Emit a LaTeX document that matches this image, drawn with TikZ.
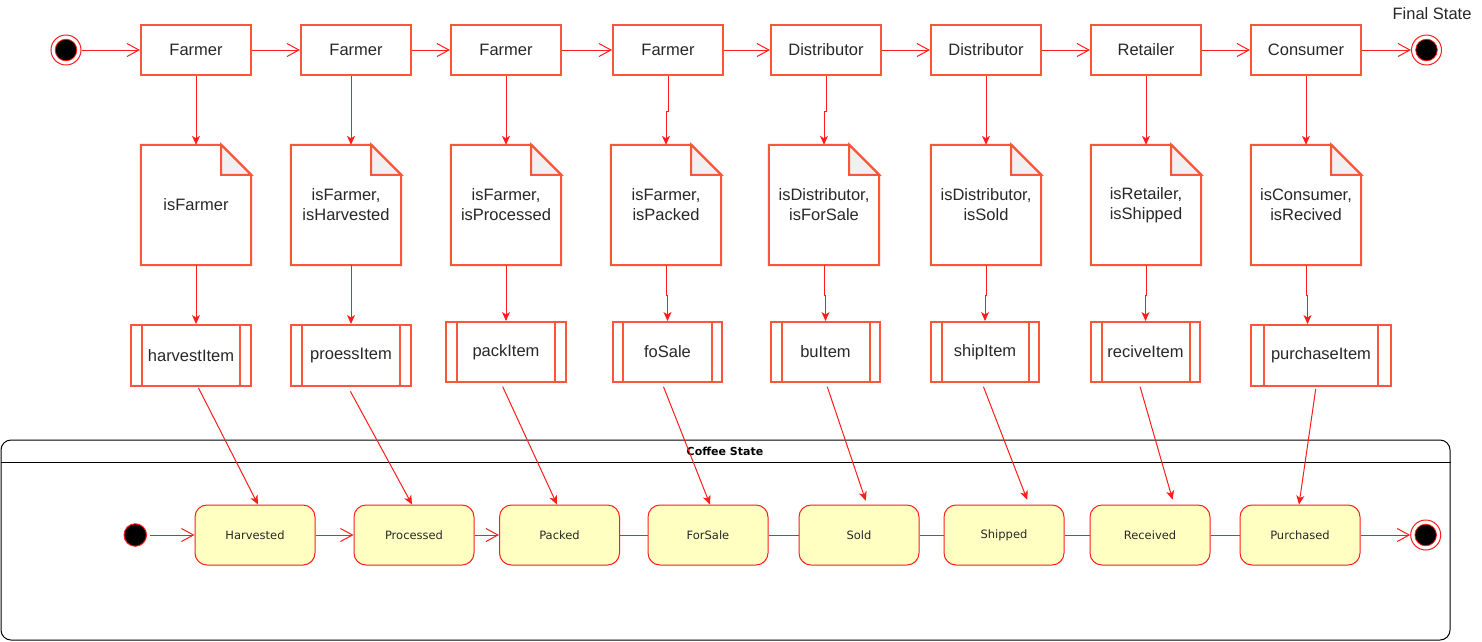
\documentclass[tikz,border=0pt]{standalone}
\usepackage{fontspec}
\setmainfont{Liberation Sans}
\newfontfamily\statefont{DejaVu Sans}
\usetikzlibrary{arrows.meta}

\definecolor{boxred}{RGB}{250,86,58}
\definecolor{linkred}{RGB}{255,28,28}
\definecolor{statefill}{RGB}{255,255,194}
\definecolor{foldgray}{RGB}{240,240,240}
\definecolor{txt}{RGB}{40,40,40}

\begin{document}
\begin{tikzpicture}[x=1pt,y=-1pt,
  lbl/.style={text=txt, font=\fontsize{16.5}{20}\selectfont},
  actor/.style={lbl, draw=boxred, line width=2pt, fill=white,
    minimum width=110pt, minimum height=50pt, inner sep=0pt},
  notebox/.style={lbl, align=center, minimum width=110pt,
    minimum height=120pt, inner sep=0pt},
  procbox/.style={lbl, draw=boxred, line width=2pt, fill=white,
    minimum height=60pt, inner sep=0pt},
  state/.style={draw=linkred, line width=1pt, fill=statefill,
    rounded corners=12pt, minimum width=120pt, minimum height=60pt,
    inner sep=0pt, text=txt, font=\statefont\fontsize{11.5}{14}\selectfont},
  startdot/.style={circle, draw=linkred, line width=1pt, fill=black,
    minimum size=22.5pt, inner sep=0pt},
  enddot/.style={circle, draw=linkred, line width=1pt, fill=white,
    minimum size=30pt, inner sep=0pt,
    path picture={\filldraw[draw=linkred, fill=black, line width=0.8pt]
      (path picture bounding box.center) circle (10.8pt);}},
  link/.style={draw=linkred, line width=1pt},
  flow/.style={link, -{Straight Barb[length=12pt,width=13pt,line width=1pt]}},
  feed/.style={link, -{Stealth[length=9pt,width=8pt,inset=2.5pt]}},
]
% canvas
\fill[white] (0,0) rectangle (1482,641);
\useasboundingbox (0,0) rectangle (1482,641);

% ---- actors along the top
\node[enddot] (init) at (66,50) {};
\node[actor] (f1) at (196,50) {Farmer};
\node[actor] (f2) at (356,50) {Farmer};
\node[actor] (f3) at (506,50) {Farmer};
\node[actor] (f4) at (668,50) {Farmer};
\node[actor] (d1) at (826,50) {Distributor};
\node[actor] (d2) at (986,50) {Distributor};
\node[actor] (rt) at (1146,50) {Retailer};
\node[actor] (cs) at (1306,50) {Consumer};
\node[enddot] (fin) at (1426.5,50) {};
\node[lbl] (finlbl) at (1432,14) {Final State};

\draw[flow] (init) -- (f1);
\draw[flow] (f1) -- (f2);
\draw[flow] (f2) -- (f3);
\draw[flow] (f3) -- (f4);
\draw[flow] (f4) -- (d1);
\draw[flow] (d1) -- (d2);
\draw[flow] (d2) -- (rt);
\draw[flow] (rt) -- (cs);
\draw[flow] (cs) -- (fin);

% ---- condition notes
\node[notebox] (n1) at (196,205) {isFarmer};
\node[notebox] (n2) at (346,205) {isFarmer,\\isHarvested};
\node[notebox] (n3) at (506,205) {isFarmer,\\isProcessed};
\node[notebox] (n4) at (666,205) {isFarmer,\\isPacked};
\node[notebox] (n5) at (824,205) {isDistributor,\\isForSale};
\node[notebox] (n6) at (986,205) {isDistributor,\\isSold};
\node[notebox] (n7) at (1146,205) {isRetailer,\\isShipped};
\node[notebox] (n8) at (1306,205) {isConsumer,\\isRecived};

\foreach \n in {n1,n2,n3,n4,n5,n6,n7,n8} {
  \draw[boxred, line width=2pt, line join=miter]
    (\n.north west) -- ([xshift=-30pt]\n.north east)
    -- ([yshift=-30pt]\n.north east) -- (\n.south east)
    -- (\n.south west) -- cycle;
  \filldraw[draw=boxred, fill=foldgray, line width=2pt, line join=miter]
    ([xshift=-30pt]\n.north east) -- ([xshift=-30pt,yshift=-30pt]\n.north east)
    -- ([yshift=-30pt]\n.north east) -- cycle;
}

\draw[feed] (f1) -- (n1);
\draw[feed] ([xshift=-5pt]f2.south) -- ([xshift=5pt]n2.north);
\draw[feed] (f3) -- (n3);
\draw[feed] (f4.south) -- ++(0,35) -| (n4.north);
\draw[feed] (d1.south) -- ++(0,35) -| (n5.north);
\draw[feed] (d2) -- (n6);
\draw[feed] (rt) -- (n7);
\draw[feed] (cs) -- (n8);

% ---- actions
\node[procbox, minimum width=120pt, minimum height=61pt] (p1) at (191,355.5) {harvestItem};
\node[procbox, minimum width=120pt, minimum height=61pt] (p2) at (351,355.5) {proessItem};
\node[procbox, minimum width=120pt] (p3) at (506,352) {packItem};
\node[procbox, minimum width=109pt] (p4) at (667.5,352) {foSale};
\node[procbox, minimum width=109pt] (p5) at (825.5,352) {buItem};
\node[procbox, minimum width=108pt] (p6) at (985,352) {shipItem};
\node[procbox, minimum width=109pt] (p7) at (1145.5,352) {reciveItem};
\node[procbox, minimum width=140pt, minimum height=61pt] (p8) at (1321,355.5) {purchaseItem};

\foreach \p/\w in {p1/12,p2/12,p3/12,p4/11,p5/11.5,p6/11.5,p7/11.5,p8/14} {
  \draw[boxred, line width=2pt]
    ([xshift=\w pt]\p.north west) -- ([xshift=\w pt]\p.south west)
    ([xshift=-\w pt]\p.north east) -- ([xshift=-\w pt]\p.south east);
}

\draw[feed] (n1.south) -- ([xshift=5pt]p1.north);
\draw[feed] ([xshift=5pt]n2.south) -- (p2.north);
\draw[feed] (n3) -- (p3);
\draw[feed] (n4.south) -- ++(0,30) -| (p4.north);
\draw[feed] (n5.south) -- ++(0,30) -| (p5.north);
\draw[feed] (n6.south) -- ++(0,30) -| (p6.north);
\draw[feed] (n7.south) -- ++(0,30) -| (p7.north);
\draw[feed] (n8.south) -- ++(0,30) -| ([xshift=-13.5pt]p8.north);

% ---- composite state
\node[draw=black, line width=1pt, rounded corners=10pt,
  minimum width=1449pt, minimum height=200pt, inner sep=0pt] (coffee) at (725.5,540) {};
\draw[black, line width=1pt] ([yshift=-23pt]coffee.north west) -- ([yshift=-23pt]coffee.north east);
\node[text=black, font=\statefont\bfseries\fontsize{11}{13}\selectfont] (coffeetitle) at (725,451.5) {Coffee State};

\node[startdot] (binit) at (135.3,535) {};
\node[state] (s1) at (255,535) {Harvested};
\node[state] (s2) at (414,535) {Processed};
\node[state] (s3) at (559.5,535) {Packed};
\node[state] (s4) at (708,535) {ForSale};
\node[state] (s5) at (859,535) {Sold};
\node[state] (s6) at (1004,535) {Shipped};
\node[state] (s7) at (1150,535) {Received};
\node[state] (s8) at (1300,535) {Purchased};
\node[enddot] (bfin) at (1425.7,535) {};

\draw[flow, shorten <=3pt] (binit) -- (s1);
\draw[flow] (s1) -- (s2);
\draw[flow] (s2) -- (s3);
\draw[link] (s3) -- (s4);
\draw[link] (s4) -- (s5);
\draw[link] (s5) -- (s6);
\draw[link] (s6) -- (s7);
\draw[link] (s7) -- (s8);
\draw[flow] (s8) -- (bfin);

% ---- actions feeding the states
\draw[feed, shorten <=1pt] ([xshift=7pt]p1.south) -- ([xshift=3pt]s1.north);
\draw[feed, shorten <=5pt] ([xshift=-3pt]p2.south) -- ([xshift=-2pt]s2.north);
\draw[feed, shorten <=4pt] ([xshift=-5pt]p3.south) -- ([xshift=-2.5pt]s3.north);
\draw[feed, shorten <=4pt] ([xshift=-5.5pt]p4.south) -- ([xshift=2pt]s4.north);
\draw[feed, shorten <=4pt, shorten >=4pt] ([xshift=0.5pt]p5.south) -- ([xshift=8pt]s5.north);
\draw[feed, shorten <=4pt, shorten >=5pt] ([xshift=-3pt]p6.south) -- ([xshift=25pt]s6.north);
\draw[feed, shorten <=4pt, shorten >=5pt] ([xshift=-6.5pt]p7.south) -- ([xshift=24pt]s7.north);
\draw[feed, shorten <=2pt] ([xshift=-5pt]p8.south) -- ([xshift=-1pt]s8.north);
\end{tikzpicture}
\end{document}
